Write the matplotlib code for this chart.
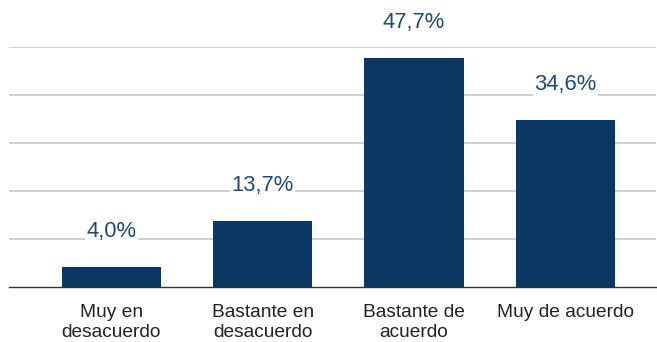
import matplotlib
matplotlib.use("Agg")
import matplotlib.pyplot as plt

# datos de la encuesta
categorias = ["Muy en\ndesacuerdo", "Bastante en\ndesacuerdo", "Bastante de\nacuerdo", "Muy de acuerdo"]
porcentajes = [4.0, 13.7, 47.7, 34.6]
etiquetas = ["4,0%", "13,7%", "47,7%", "34,6%"]

plt.rcParams['font.family'] = ['Liberation Sans', 'DejaVu Sans']

fig = plt.figure(figsize=(6.57, 3.42), dpi=100)
ax = fig.add_axes([9 / 657, 1 - 286.5 / 342, 647 / 657, 240 / 342])

x = list(range(len(categorias)))
ax.bar(x, porcentajes, width=0.655, color="#0b3763", zorder=3)

ax.set_ylim(0, 50)
ax.set_xlim(-0.677, 3.6)
ax.set_yticks([10, 20, 30, 40, 50])
ax.yaxis.grid(True, color="#cccccc", linewidth=1.3, zorder=0)
ax.tick_params(axis='y', left=False, labelleft=False)
ax.tick_params(axis='x', bottom=False, pad=9)
ax.set_xticks(x)
ax.set_xticklabels(categorias, fontsize=13.8, color="#222222", linespacing=1.25)

for s in ['top', 'right', 'left']:
    ax.spines[s].set_visible(False)
ax.spines['bottom'].set_color("#333333")
ax.spines['bottom'].set_linewidth(1.0)
ax.spines['bottom'].set_zorder(4)

# etiquetas de valor sobre cada barra
for i, p in enumerate(porcentajes):
    ax.annotate(etiquetas[i], (i, p), xytext=(0, 25), textcoords='offset pixels',
                ha='center', va='bottom', fontsize=15.8, color="#1f4a78",
                bbox=dict(facecolor='white', edgecolor='none', pad=1),
                zorder=5, annotation_clip=False)

fig.savefig("out.png", dpi=100)
